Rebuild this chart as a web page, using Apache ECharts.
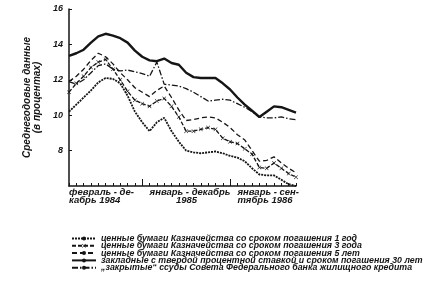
<!DOCTYPE html>
<html><head><meta charset="utf-8">
<script src="https://cdn.jsdelivr.net/npm/echarts@6/dist/echarts.min.js"></script>
<style>html,body{margin:0;padding:0;background:#fff}#c{width:435px;height:284px}</style>
</head><body><div id="c"></div>
<script>
// Months: Feb 1984 .. Sep 1986
const months = ['1984-02','1984-03','1984-04','1984-05','1984-06','1984-07','1984-08','1984-09','1984-10','1984-11','1984-12',
  '1985-01','1985-02','1985-03','1985-04','1985-05','1985-06','1985-07','1985-08','1985-09','1985-10','1985-11','1985-12',
  '1986-01','1986-02','1986-03','1986-04','1986-05','1986-06','1986-07','1986-08','1986-09'];
const periodLabels = ['февраль - де-\nкабрь 1984', 'январь - декабрь\n          1985', 'январь - сен-\nтябрь 1986'];
const periodStartMonths = ['1984-02', '1985-01', '1986-01'];
const yearBoundaryMonths = ['1984-12', '1985-12'];

const seriesNames = [
  'ценные бумаги Казначейства со сроком погашения 1 год',
  'ценные бумаги Казначейства со сроком погашения 3 года',
  'ценные бумаги Казначейства со сроком погашения 5 лет',
  'закладные с твердой процентной ставкой и сроком погашения 30 лет',
  '„закрытые“ ссуды Совета Федерального банка жилищного кредита'
];
const bills1y = [10.2,10.6,11.0,11.4,11.85,12.1,12.05,11.8,11.1,10.2,9.6,9.1,9.6,9.85,9.1,8.5,8.0,7.9,7.85,7.9,7.95,7.85,7.7,7.6,7.4,7.0,6.65,6.6,6.6,6.35,6.1,6.0];
const notes3y = [11.3,11.8,12.2,12.7,13.0,13.15,12.6,12.0,11.35,10.85,10.65,10.5,10.8,10.95,10.5,9.9,9.1,9.1,9.2,9.3,9.2,8.7,8.5,8.4,8.1,7.8,7.05,7.0,7.3,7.0,6.7,6.5];
const notes5y = [11.9,12.2,12.6,13.1,13.5,13.3,12.9,12.4,12.0,11.55,11.3,11.05,11.4,11.65,11.0,10.3,9.7,9.75,9.85,9.9,9.85,9.6,9.3,8.9,8.6,8.0,7.4,7.45,7.65,7.3,7.0,6.75];
const mortgage30y = [13.35,13.5,13.7,14.1,14.45,14.6,14.5,14.35,14.1,13.65,13.3,13.1,13.05,13.2,12.95,12.85,12.4,12.15,12.1,12.1,12.1,11.8,11.45,11.0,10.6,10.25,9.9,10.2,10.5,10.45,10.3,10.15];
const fhlbbLoans = [11.9,11.75,12.0,12.4,12.8,12.9,12.6,12.5,12.55,12.45,12.35,12.2,13.0,11.75,11.7,11.65,11.5,11.3,11.05,10.8,10.85,10.9,10.85,10.65,10.45,10.2,9.9,9.85,9.85,9.9,9.8,9.75];

const ink = '#151515';
const font = 'Liberation Sans';
const xSym = 'path://M0,1L1,0L5,4L9,0L10,1L6,5L10,9L9,10L5,6L1,10L0,9L4,5Z';

const legendText = {fontSize: 8.8, fontStyle: 'italic', fontWeight: 'bold', fontFamily: font, color: ink};
const legends = seriesNames.map((n, i) => ({
  orient: 'horizontal', left: 71, top: 234 + i * 7.3, itemWidth: 24, itemHeight: 5, padding: 0, itemGap: 0,
  textStyle: legendText, data: [n], selectedMode: false
}));

const chart = echarts.init(document.getElementById('c'), null, {renderer: 'canvas'});
chart.setOption({
  animation: false,
  backgroundColor: '#fff',
  grid: [
    {left: 69, top: 9, width: 227, height: 177},
    {left: 69, top: 9, width: 227, height: 177}
  ],
  xAxis: [{
    type: 'category', gridIndex: 0, data: months, boundaryGap: false,
    axisLine: {lineStyle: {color: ink, width: 1.5}},
    axisTick: {inside: true, length: 3, interval: 0, lineStyle: {color: ink, width: 1}},
    axisLabel: {
      interval: (i, v) => periodStartMonths.includes(v),
      formatter: v => periodLabels[periodStartMonths.indexOf(v)] || '',
      align: 'left', margin: 2, fontSize: 9.5, lineHeight: 8, fontStyle: 'italic', fontWeight: 'bold',
      fontFamily: font, color: ink
    },
    splitLine: {show: false}
  }, {
    type: 'category', gridIndex: 1, data: months, boundaryGap: false, position: 'bottom',
    axisLine: {show: false},
    axisTick: {inside: true, length: 7, interval: (i, v) => yearBoundaryMonths.includes(v), lineStyle: {color: ink, width: 1}},
    axisLabel: {show: false}, splitLine: {show: false}
  }],
  yAxis: [{
    type: 'value', gridIndex: 0, min: 6, max: 16, interval: 2,
    name: 'Среднегодовые данные\n(в процентах)', nameLocation: 'middle', nameGap: 22,
    nameTextStyle: {fontSize: 10, lineHeight: 10, fontStyle: 'italic', fontWeight: 'bold', fontFamily: font, color: ink},
    axisLine: {show: true, lineStyle: {color: ink, width: 1.5}},
    axisTick: {show: true, inside: true, length: 3, lineStyle: {color: ink}},
    axisLabel: {showMinLabel: false, margin: 6, fontSize: 9, fontStyle: 'italic', fontWeight: 'bold', fontFamily: font, color: ink},
    splitLine: {show: false}
  }, {
    type: 'value', gridIndex: 1, min: 6, max: 16, show: false
  }],
  legend: legends,
  series: [
    {name: seriesNames[0], type: 'line', data: bills1y, symbol: 'none', color: ink,
     lineStyle: {color: ink, width: 1.8, type: [2, 1]}},
    {name: seriesNames[1], type: 'line', data: notes3y, symbol: xSym, symbolSize: 4, showSymbol: true, color: ink,
     itemStyle: {color: ink}, lineStyle: {color: ink, width: 1.3, type: [4, 2]}},
    {name: seriesNames[2], type: 'line', data: notes5y, symbol: 'none', color: ink,
     lineStyle: {color: ink, width: 1.3, type: [5, 3]}},
    {name: seriesNames[3], type: 'line', data: mortgage30y, symbol: 'none', color: ink,
     lineStyle: {color: ink, width: 2.4}},
    {name: seriesNames[4], type: 'line', data: fhlbbLoans, symbol: 'none', color: ink,
     lineStyle: {color: ink, width: 1.3, type: [6, 2, 1.5, 2]}}
  ]
});
</script></body></html>
